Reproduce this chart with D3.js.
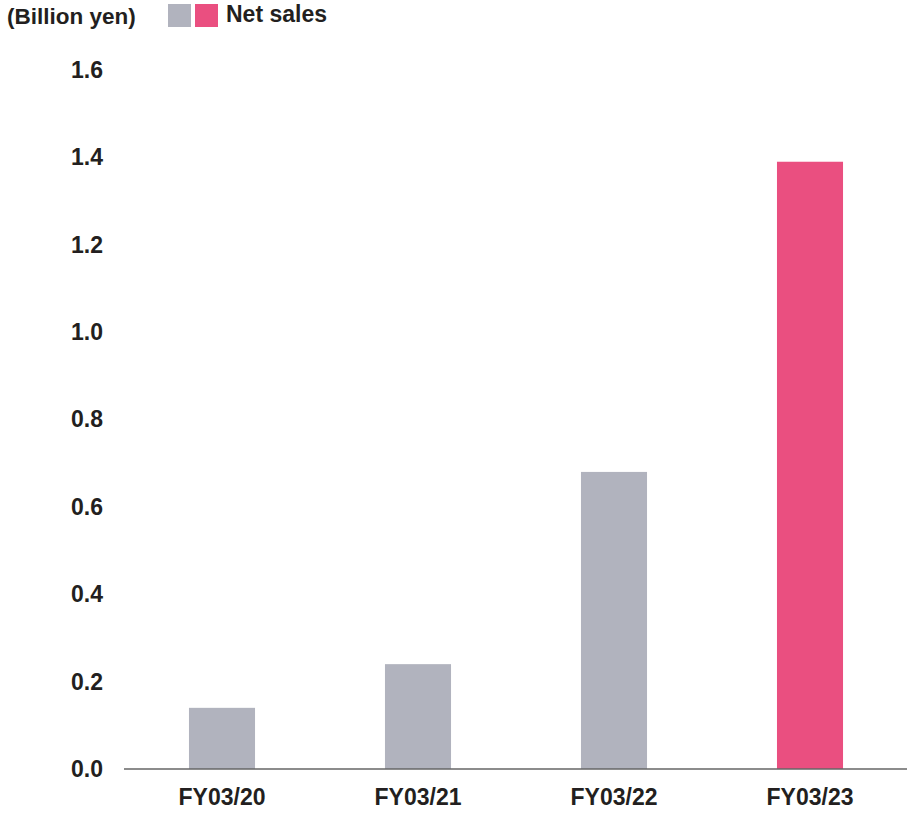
<!DOCTYPE html>
<html>
<head>
<meta charset="utf-8">
<script src="https://cdn.jsdelivr.net/npm/d3@7"></script>
<style>
  html, body { margin: 0; padding: 0; background: #fff; }
  svg { display: block; font-family: "Liberation Sans", Arial, Helvetica, sans-serif; }
</style>
</head>
<body>
<svg id="chart" width="907" height="813"></svg>
<script>
// Net sales by fiscal year (billion yen)
const categories = ["FY03/20", "FY03/21", "FY03/22", "FY03/23"];
const netSales = [0.14, 0.24, 0.68, 1.39];
const barColors = ["#b1b3be", "#b1b3be", "#b1b3be", "#ea4f80"];
const yTicks = [0.0, 0.2, 0.4, 0.6, 0.8, 1.0, 1.2, 1.4, 1.6];
const unitLabel = "(Billion yen)";
const legendLabel = "Net sales";
const legendSwatches = ["#b1b3be", "#ea4f80"];

const svg = d3.select("#chart");
const textColor = "#231f20";
const fontSize = "23px";

const x = d3.scaleBand()
  .domain(categories)
  .range([124, 908])
  .paddingInner(0.663)
  .paddingOuter(0.3315);

const y = d3.scaleLinear()
  .domain([0, 1.6])
  .range([769, 70]);

// bars
svg.append("g")
  .selectAll("rect")
  .data(categories)
  .join("rect")
  .attr("x", d => x(d))
  .attr("width", x.bandwidth())
  .attr("y", (d, i) => y(netSales[i]))
  .attr("height", (d, i) => y(0) - y(netSales[i]))
  .attr("fill", (d, i) => barColors[i]);

// baseline
svg.append("line")
  .attr("x1", 124).attr("x2", 907)
  .attr("y1", y(0)).attr("y2", y(0))
  .attr("stroke", "#666").attr("stroke-width", 1.6);

// y axis labels
const yAxis = d3.axisLeft(y)
  .tickValues(yTicks)
  .tickFormat(d3.format(".1f"))
  .tickSize(0)
  .tickPadding(0);
const yg = svg.append("g").attr("transform", "translate(103,0)").call(yAxis);
yg.select(".domain").remove();
yg.selectAll("text")
  .attr("fill", textColor)
  .style("font-size", fontSize)
  .style("font-weight", "bold")
  .attr("font-family", null);

// x axis labels
const xAxis = d3.axisBottom(x).tickSize(0).tickPadding(0);
const xg = svg.append("g").attr("transform", `translate(0,${y(0) + 20})`).call(xAxis);
xg.select(".domain").remove();
xg.selectAll("text")
  .attr("fill", textColor)
  .style("font-size", fontSize)
  .style("font-weight", "bold")
  .attr("font-family", null);

// unit label and legend
svg.append("text")
  .attr("x", 7).attr("y", 24)
  .attr("fill", textColor)
  .style("font-size", "22.5px").style("font-weight", "bold")
  .text(unitLabel);

svg.append("g")
  .selectAll("rect")
  .data(legendSwatches)
  .join("rect")
  .attr("x", (d, i) => 168 + i * 27)
  .attr("y", 4)
  .attr("width", 23).attr("height", 23)
  .attr("fill", d => d);

svg.append("text")
  .attr("x", 226).attr("y", 22)
  .attr("fill", textColor)
  .style("font-size", fontSize).style("font-weight", "bold")
  .text(legendLabel);
</script>
</body>
</html>
